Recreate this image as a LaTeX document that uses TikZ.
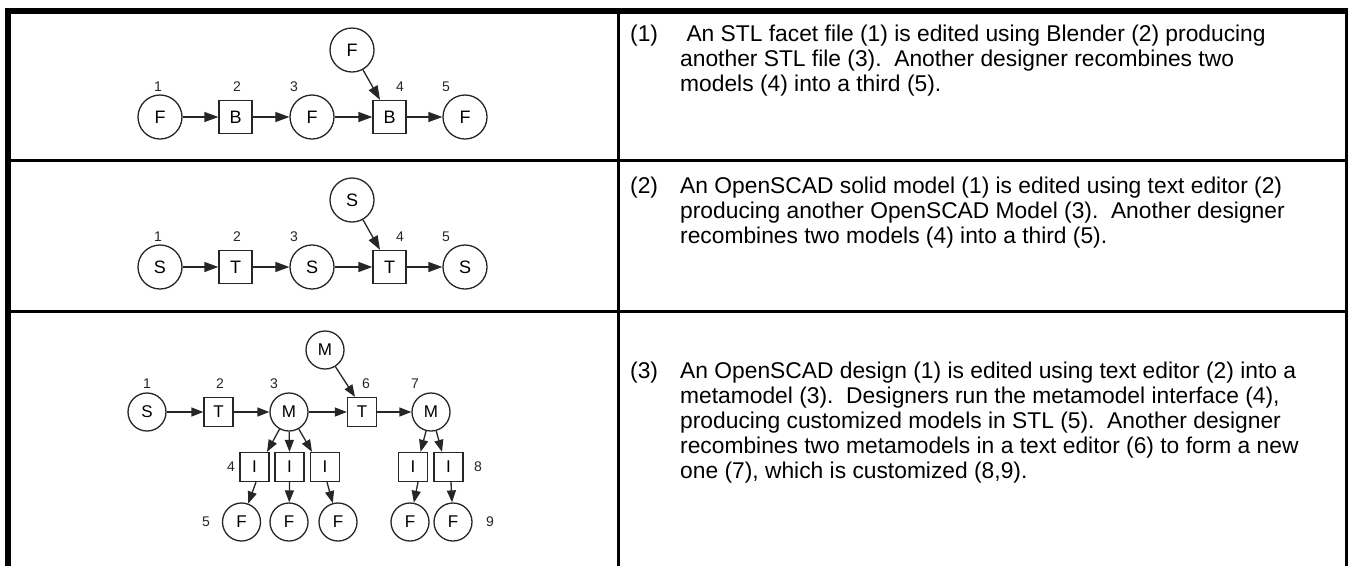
\documentclass[tikz,border=0pt]{standalone}
\usepackage{fontspec}
\setmainfont{Liberation Sans}
\usetikzlibrary{arrows.meta}
\begin{document}
\begin{tikzpicture}[x=1pt,y=-1pt,
  ink/.style={draw=black!85,line width=1.3pt},
  circ/.style={circle,ink,minimum size=44pt,inner sep=0pt,font=\fontsize{18}{18}\selectfont},
  sq/.style={rectangle,ink,minimum size=33pt,inner sep=0pt,font=\fontsize{18}{18}\selectfont},
  circs/.style={circle,ink,minimum size=38pt,inner sep=0pt,font=\fontsize{17}{17}\selectfont},
  sqs/.style={rectangle,ink,minimum size=29pt,inner sep=0pt,font=\fontsize{17}{17}\selectfont},
  lbl/.style={font=\fontsize{14}{14}\selectfont,inner sep=0pt,text=black!85},
  arr/.style={ink,-{Triangle[length=14pt,width=10pt]}},
  arrs/.style={ink,-{Triangle[length=12pt,width=9pt]}},
  txt/.style={inner sep=0pt,anchor=base west,font=\fontsize{22.8}{25}\selectfont},
  rule/.style={fill=black}]
\useasboundingbox (0,0) rectangle (1348,566);
\fill[white] (0,0) rectangle (1348,566);
% table
\fill[rule] (5,8) rectangle (1348,14);
\fill[rule] (5,8) rectangle (11,566);
\fill[rule] (1345,8) rectangle (1348,566);
\fill[rule] (617,14) rectangle (620,566);
\fill[rule] (11,159) rectangle (1345,162);
\fill[rule] (11,310) rectangle (1345,313);
% ---- row 1
\node[circ] (a1) at (160,117) {F};
\node[sq]   (a2) at (235.5,117) {B};
\node[circ] (a3) at (312,117) {F};
\node[sq]   (a4) at (389.5,117) {B};
\node[circ] (a5) at (465,117) {F};
\node[circ] (a0) at (352,50) {F};
\node[lbl] (la1) at (158,87) {1};
\node[lbl] (la2) at (237,87) {2};
\node[lbl] (la3) at (294,87) {3};
\node[lbl] (la4) at (400,87) {4};
\node[lbl] (la5) at (446,87) {5};
\draw[arr] (a1) -- (a2);
\draw[arr] (a2) -- (a3);
\draw[arr] (a3) -- (a4);
\draw[arr] (a4) -- (a5);
\draw[arr] (a0.-61) -- ([xshift=-9.5pt]a4.north);
% ---- row 2
\node[circ] (b1) at (160,267) {S};
\node[sq]   (b2) at (235.5,267) {T};
\node[circ] (b3) at (312,267) {S};
\node[sq]   (b4) at (389.5,267) {T};
\node[circ] (b5) at (465,267) {S};
\node[circ] (b0) at (352,200) {S};
\node[lbl] (lb1) at (158,237) {1};
\node[lbl] (lb2) at (237,237) {2};
\node[lbl] (lb3) at (294,237) {3};
\node[lbl] (lb4) at (400,237) {4};
\node[lbl] (lb5) at (446,237) {5};
\draw[arr] (b1) -- (b2);
\draw[arr] (b2) -- (b3);
\draw[arr] (b3) -- (b4);
\draw[arr] (b4) -- (b5);
\draw[arr] (b0.-61) -- ([xshift=-9.5pt]b4.north);
% ---- row 3
\node[circs] (c1) at (147,412) {S};
\node[sqs]   (c2) at (218.5,412) {T};
\node[circs] (c3) at (289,412) {M};
\node[sqs]   (c6) at (362,412) {T};
\node[circs] (c7) at (431,412) {M};
\node[circs] (c0) at (325,350) {M};
\node[sqs] (i1) at (254.5,467) {I};
\node[sqs] (i2) at (289.5,467) {I};
\node[sqs] (i3) at (325,467) {I};
\node[sqs] (j1) at (413,467) {I};
\node[sqs] (j2) at (448.5,467) {I};
\node[circs] (f1) at (241.5,522) {F};
\node[circs] (f2) at (289,522) {F};
\node[circs] (f3) at (338,522) {F};
\node[circs] (g1) at (410,522) {F};
\node[circs] (g2) at (453,522) {F};
\node[lbl] (lc1) at (147,384) {1};
\node[lbl] (lc2) at (220,384) {2};
\node[lbl] (lc3) at (274,384) {3};
\node[lbl] (lc6) at (366,384) {6};
\node[lbl] (lc7) at (415,384) {7};
\node[lbl] (lc4) at (231,467) {4};
\node[lbl] (lc8) at (478,467) {8};
\node[lbl] (lc5) at (206,522) {5};
\node[lbl] (lc9) at (490,522) {9};
\draw[arrs] (c1) -- (c2);
\draw[arrs] (c2) -- (c3);
\draw[arrs] (c3) -- (c6);
\draw[arrs] (c6) -- (c7);
\draw[arrs] (c0.-58) -- ([xshift=-7pt]c6.north);
\draw[arrs] (c3) -- ([xshift=12.5pt]i1.north);
\draw[arrs] (c3) -- (i2.north);
\draw[arrs] (c3) -- ([xshift=-13pt]i3.north);
\draw[arrs] (c7) -- ([xshift=7.6pt]j1.north);
\draw[arrs] (c7) -- ([xshift=-6.5pt]j2.north);
\draw[arrs] ([xshift=1.5pt]i1.south) -- (f1);
\draw[arrs] (i2.south) -- (f2);
\draw[arrs] ([xshift=2pt]i3.south) -- (f3);
\draw[arrs] ([xshift=5pt]j1.south) -- (g1);
\draw[arrs] ([xshift=2.5pt]j2.south) -- (g2);
% ---- texts
\node[txt] (t1) at (630,41) {\begin{tabular}[t]{@{}p{50pt}@{}l@{}}
(1) & \ An STL facet file (1) is edited using Blender (2) producing\\
 & another STL file (3).\ \ Another designer recombines two\\
 & models (4) into a third (5).
\end{tabular}};
\node[txt] (t2) at (630,193) {\begin{tabular}[t]{@{}p{50pt}@{}l@{}}
(2) & An OpenSCAD solid model (1) is edited using text editor (2)\\
 & producing another OpenSCAD Model (3).\ \ Another designer\\
 & recombines two models (4) into a third (5).
\end{tabular}};
\node[txt] (t3) at (630,378) {\begin{tabular}[t]{@{}p{50pt}@{}l@{}}
(3) & An OpenSCAD design (1) is edited using text editor (2) into a\\
 & metamodel (3).\ \ Designers run the metamodel interface (4),\\
 & producing customized models in STL (5).\ \ Another designer\\
 & recombines two metamodels in a text editor (6) to form a new\\
 & one (7), which is customized (8,9).
\end{tabular}};
\end{tikzpicture}
\end{document}
